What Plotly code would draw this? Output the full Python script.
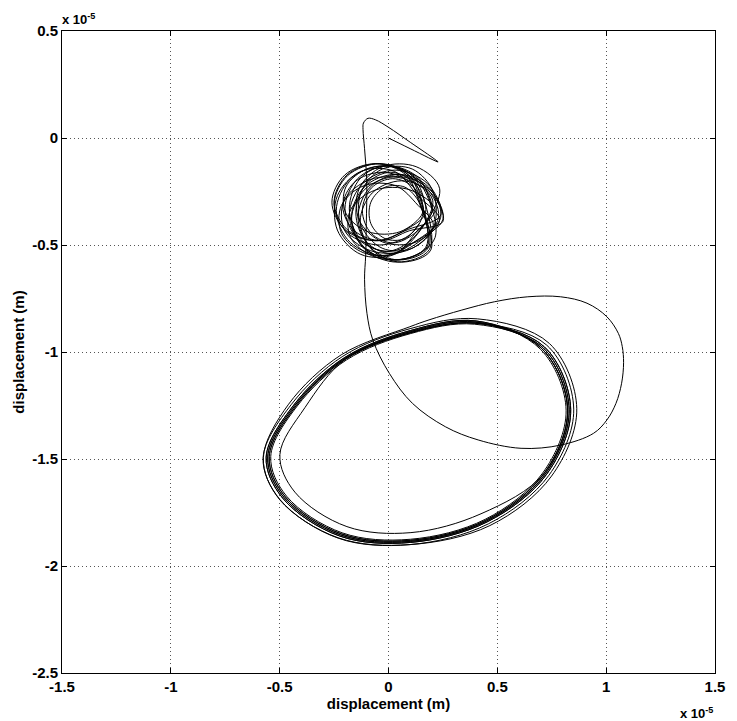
import plotly.graph_objects as go

# values in units of 1e-5 m
hook_x = [0.0, 0.12, 0.20, 0.228, 0.20, 0.10, 0.0, -0.06, -0.094, -0.115, -0.117, -0.11, -0.10, -0.102, -0.105, -0.11,
          -0.099, -0.072, 0.004, 0.11, 0.261, 0.412, 0.609, 0.791, 0.942, 1.003, 1.045, 1.071, 1.080, 1.074, 1.056,
          1.003, 0.912, 0.791, 0.64, 0.488, 0.337, 0.186]
hook_y = [0.0, -0.06, -0.10, -0.112, -0.09, -0.02, 0.05, 0.085, 0.092, 0.07, 0.04, -0.05, -0.20, -0.40, -0.55, -0.66,
          -0.819, -0.944, -1.10, -1.24, -1.349, -1.411, -1.45, -1.435, -1.38, -1.318, -1.24, -1.146, -1.05, -0.975,
          -0.913, -0.835, -0.772, -0.742, -0.742, -0.765, -0.804, -0.85]

orbit_x = [
    0.098, -0.217, -0.459, -0.575, -0.500, -0.232, 0.098, 0.466, 0.749, 0.865, 0.739,
    0.408, 0.099, -0.210, -0.447, -0.576, -0.499, -0.231, 0.099, 0.459, 0.737, 0.851, 0.727,
    0.397, 0.100, -0.197, -0.384, -0.499, -0.430, -0.191, 0.103, 0.425, 0.714, 0.823, 0.704,
    0.403, 0.100, -0.203, -0.436, -0.562, -0.486, -0.224, 0.100, 0.453, 0.726, 0.837, 0.716,
    0.397, 0.100, -0.197, -0.424, -0.548, -0.474, -0.216, 0.100, 0.447, 0.714, 0.823, 0.704,
    0.400, 0.100, -0.200, -0.430, -0.555, -0.480, -0.220, 0.100, 0.450, 0.720, 0.830, 0.710,
    0.395, 0.101, -0.193, -0.419, -0.541, -0.468, -0.213, 0.101, 0.444, 0.708, 0.816, 0.699,
    0.403, 0.100, -0.203, -0.436, -0.562, -0.486, -0.224, 0.100, 0.453, 0.726, 0.837, 0.716,
    0.397, 0.100, -0.197, -0.424, -0.548, -0.474, -0.216, 0.100, 0.447, 0.714, 0.823, 0.704,
    0.400, 0.100, -0.200, -0.430, -0.555, -0.480, -0.220, 0.100, 0.450, 0.720, 0.830, 0.710, 0.400,
]
orbit_y = [
    -0.882, -1.013, -1.244, -1.494, -1.690, -1.868, -1.900, -1.811, -1.580, -1.265, -0.960,
    -0.845, -0.891, -1.020, -1.246, -1.494, -1.689, -1.870, -1.900, -1.803, -1.576, -1.267, -0.968,
    -0.865, -0.910, -1.033, -1.260, -1.480, -1.655, -1.816, -1.844, -1.756, -1.568, -1.271, -0.984,
    -0.855, -0.900, -1.027, -1.249, -1.491, -1.683, -1.860, -1.890, -1.794, -1.572, -1.269, -0.976,
    -0.865, -0.910, -1.033, -1.251, -1.489, -1.677, -1.850, -1.880, -1.786, -1.568, -1.271, -0.984,
    -0.860, -0.905, -1.030, -1.250, -1.490, -1.680, -1.855, -1.885, -1.790, -1.570, -1.270, -0.980,
    -0.870, -0.914, -1.037, -1.252, -1.488, -1.674, -1.845, -1.875, -1.782, -1.566, -1.272, -0.988,
    -0.855, -0.900, -1.027, -1.249, -1.491, -1.683, -1.860, -1.890, -1.794, -1.572, -1.269, -0.976,
    -0.865, -0.910, -1.033, -1.251, -1.489, -1.677, -1.850, -1.880, -1.786, -1.568, -1.271, -0.984,
    -0.860, -0.905, -1.030, -1.250, -1.490, -1.680, -1.855, -1.885, -1.790, -1.570, -1.270, -0.980, -0.860,
]

tangle_x = [
    0.20, 0.141, 0.00, -0.141, -0.20, -0.141, 0.00, 0.141,
    0.24, 0.184, 0.05, -0.084, -0.14, -0.084, 0.05, 0.184,
    0.15, 0.091, -0.05, -0.191, -0.25, -0.191, -0.05, 0.091,
    0.24, 0.178, 0.03, -0.118, -0.18, -0.118, 0.03, 0.178,
    0.15, 0.097, -0.03, -0.157, -0.21, -0.157, -0.03, 0.097,
    0.25, 0.194, 0.06, -0.074, -0.13, -0.074, 0.06, 0.194,
    0.14, 0.081, -0.06, -0.201, -0.26, -0.201, -0.06, 0.081,
    0.17, 0.123, 0.01, -0.103, -0.15, -0.103, 0.01, 0.123,
    0.25, 0.188, 0.04, -0.108, -0.17, -0.108, 0.04, 0.188,
    0.17, 0.108, -0.04, -0.188, -0.25, -0.188, -0.04, 0.108,
    0.16, 0.119, 0.02, -0.079, -0.12, -0.079, 0.02, 0.119,
    0.20, 0.136, -0.02, -0.176, -0.24, -0.176, -0.02, 0.136,
    0.23, 0.171, 0.03, -0.111, -0.17, -0.111, 0.03, 0.171,
    0.16, 0.110, -0.01, -0.130, -0.18, -0.130, -0.01, 0.110,
    0.203, 0.084, -0.084, -0.203, -0.203, -0.084, 0.084, 0.203,
    0.206, 0.109, -0.029, -0.126, -0.126, -0.029, 0.109, 0.206,
    0.136, 0.033, -0.113, -0.216, -0.216, -0.113, 0.033, 0.136,
    0.235, 0.127, -0.027, -0.135, -0.135, -0.027, 0.127, 0.235,
    0.135, 0.027, -0.127, -0.235, -0.235, -0.127, 0.027, 0.135,
    0.214, 0.100, -0.060, -0.174, -0.174, -0.060, 0.100, 0.214,
    0.156, 0.053, -0.093, -0.196, -0.196, -0.093, 0.053, 0.156,
    0.141, 0.076, -0.016, -0.081, -0.081, -0.016, 0.076, 0.141,
]
tangle_y = [
    -0.33, -0.189, -0.13, -0.189, -0.33, -0.471, -0.53, -0.471,
    -0.37, -0.229, -0.17, -0.229, -0.37, -0.511, -0.57, -0.511,
    -0.30, -0.173, -0.12, -0.173, -0.30, -0.427, -0.48, -0.427,
    -0.36, -0.212, -0.15, -0.212, -0.36, -0.508, -0.57, -0.508,
    -0.32, -0.207, -0.16, -0.207, -0.32, -0.433, -0.48, -0.433,
    -0.39, -0.256, -0.20, -0.256, -0.39, -0.524, -0.58, -0.524,
    -0.30, -0.173, -0.12, -0.173, -0.30, -0.427, -0.48, -0.427,
    -0.35, -0.216, -0.16, -0.216, -0.35, -0.484, -0.54, -0.484,
    -0.38, -0.239, -0.18, -0.239, -0.38, -0.521, -0.58, -0.521,
    -0.31, -0.176, -0.12, -0.176, -0.31, -0.444, -0.50, -0.444,
    -0.34, -0.234, -0.19, -0.234, -0.34, -0.446, -0.49, -0.446,
    -0.34, -0.192, -0.13, -0.192, -0.34, -0.488, -0.55, -0.488,
    -0.37, -0.229, -0.17, -0.229, -0.37, -0.511, -0.57, -0.511,
    -0.33, -0.189, -0.13, -0.189, -0.33, -0.471, -0.53, -0.471,
    -0.291, -0.194, -0.194, -0.291, -0.429, -0.526, -0.526, -0.429,
    -0.253, -0.145, -0.145, -0.253, -0.407, -0.515, -0.515, -0.407,
    -0.315, -0.223, -0.223, -0.315, -0.445, -0.537, -0.537, -0.445,
    -0.237, -0.134, -0.134, -0.237, -0.383, -0.486, -0.486, -0.383,
    -0.270, -0.156, -0.156, -0.270, -0.430, -0.544, -0.544, -0.430,
    -0.335, -0.243, -0.243, -0.335, -0.465, -0.557, -0.557, -0.465,
    -0.229, -0.142, -0.142, -0.229, -0.351, -0.438, -0.438, -0.351,
    -0.300, -0.230, -0.230, -0.300, -0.400, -0.470, -0.470, -0.400,
]

x_ticks = [-1.5, -1, -0.5, 0, 0.5, 1, 1.5]
x_labels = ["-1.5", "-1", "-0.5", "0", "0.5", "1", "1.5"]
y_ticks = [0.5, 0, -0.5, -1, -1.5, -2, -2.5]
y_labels = ["0.5", "0", "-0.5", "-1", "-1.5", "-2", "-2.5"]

line_style = dict(color="black", width=1, shape="spline", smoothing=1.0)

fig = go.Figure()
fig.add_trace(go.Scatter(x=tangle_x, y=tangle_y, mode="lines", line=line_style, showlegend=False))
fig.add_trace(go.Scatter(x=hook_x + orbit_x, y=hook_y + orbit_y, mode="lines", line=line_style, showlegend=False))

font = dict(family="Liberation Sans, Arial", size=15, color="black", weight="bold")
small_font = dict(family="Liberation Sans, Arial", size=13, color="black", weight="bold")
axis_common = dict(
    showline=True, linecolor="black", linewidth=1, mirror="allticks",
    ticks="inside", ticklen=5, tickcolor="black",
    showgrid=True, gridcolor="#555555", griddash="1px,3px", gridwidth=1,
    zeroline=False, tickfont=font,
)
fig.update_layout(
    width=737, height=721,
    margin=dict(l=62, r=14, t=31, b=48),
    paper_bgcolor="white", plot_bgcolor="white",
    xaxis=dict(range=[-1.5, 1.5], tickvals=x_ticks, ticktext=x_labels,
               title=dict(text="displacement (m)", font=font, standoff=2), **axis_common),
    yaxis=dict(range=[-2.5, 0.5], tickvals=y_ticks, ticktext=y_labels,
               title=dict(text="displacement (m)", font=font, standoff=3), **axis_common),
    annotations=[
        dict(text="x 10<sup>-5</sup>", xref="paper", yref="paper", x=0, y=1, xanchor="left", yanchor="bottom",
             showarrow=False, font=small_font, xshift=-2, yshift=2),
        dict(text="x 10<sup>-5</sup>", xref="paper", yref="paper", x=1, y=0, xanchor="right", yanchor="top",
             showarrow=False, font=small_font, yshift=-30, xshift=0),
    ],
)
fig.write_html("out.html")
